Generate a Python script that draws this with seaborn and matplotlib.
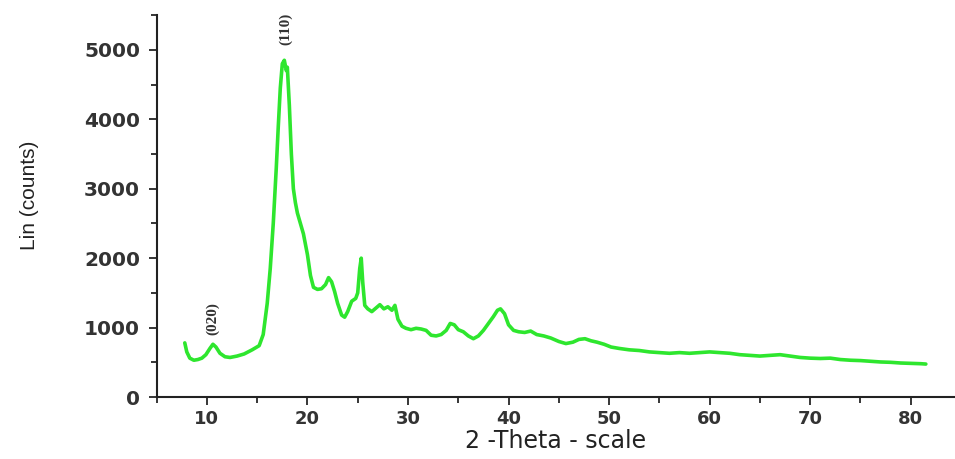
import matplotlib
matplotlib.use("Agg")
import matplotlib.pyplot as plt
import seaborn as sns
import pandas as pd
from matplotlib.ticker import MultipleLocator

two_theta = [7.8, 8.0, 8.3, 8.7, 9.1, 9.5, 9.9, 10.3, 10.6, 10.9, 11.3, 11.8, 12.3, 13.0, 13.7, 14.5, 15.2,
             15.6, 16.0, 16.3, 16.6, 16.9, 17.1, 17.3, 17.5, 17.7, 17.9, 18.0, 18.2, 18.4, 18.6, 18.8,
             19.0, 19.3, 19.6, 20.0, 20.3, 20.6, 21.0, 21.4, 21.8, 22.1, 22.4, 22.7, 23.0, 23.4, 23.7,
             24.0, 24.4, 24.8, 25.0, 25.2, 25.35, 25.5, 25.7, 26.0, 26.4, 26.8, 27.2, 27.6, 28.0, 28.4,
             28.7, 29.0, 29.4, 29.8, 30.3, 30.8, 31.3, 31.8, 32.3, 32.8, 33.3, 33.8, 34.2, 34.6, 35.0,
             35.5, 36.0, 36.5, 37.0, 37.5, 38.0, 38.5, 38.9, 39.2, 39.6, 40.0, 40.5, 41.0, 41.6, 42.2,
             42.8, 43.5, 44.2, 45.0, 45.7, 46.4, 47.0, 47.6, 48.2, 48.8, 49.5, 50.2, 51.0, 52.0, 53.0,
             54.0, 55.0, 56.0, 57.0, 58.0, 59.0, 60.0, 61.0, 62.0, 63.0, 64.0, 65.0, 66.0, 67.0, 68.0,
             69.0, 70.0, 71.0, 72.0, 73.0, 74.0, 75.0, 76.0, 77.0, 78.0, 79.0, 80.0, 81.0, 81.5]

counts = [780, 650, 560, 530, 540, 560, 610, 700, 760, 720, 630, 580, 570, 590, 620, 680, 740,
          900, 1350, 1850, 2500, 3300, 3900, 4450, 4800, 4850, 4700, 4750, 4200, 3500, 3000, 2800,
          2650, 2500, 2350, 2050, 1750, 1580, 1550, 1560, 1620, 1720, 1660, 1520, 1350, 1180, 1150,
          1230, 1380, 1420, 1500, 1850, 2000, 1650, 1320, 1270, 1230, 1280, 1330, 1270, 1300, 1250,
          1320, 1120, 1020, 990, 970, 990, 980, 960, 890, 880, 900, 960, 1060, 1040, 970,
          940, 880, 840, 880, 960, 1060, 1160, 1250, 1270, 1200, 1040, 960, 940, 930, 950,
          900, 880, 850, 800, 770, 790, 830, 840, 810, 790, 760, 720, 700, 680, 670,
          650, 640, 630, 640, 630, 640, 650, 640, 630, 610, 600, 590, 600, 610, 590,
          570, 560, 555, 560, 540, 530, 525, 515, 505, 500, 490, 485, 480, 475]

peak_labels = ["(020)", "(110)"]
peak_pos = [10.6, 17.8]
peak_label_y = [890, 5070]

df = pd.DataFrame({"two_theta": two_theta, "counts": counts})

sns.set_style("white")
plt.rcParams["font.family"] = ["DejaVu Sans"]

fig = plt.figure(figsize=(9.55, 4.59), dpi=100)
ax = fig.add_axes([0.164, 0.135, 0.836, 0.832])

sns.lineplot(data=df, x="two_theta", y="counts", ax=ax, color="#2ee62e", linewidth=2.6)

ax.set_xlim(5, 84.4)
ax.set_ylim(0, 5500)
ax.xaxis.set_major_locator(MultipleLocator(10))
ax.xaxis.set_minor_locator(MultipleLocator(5))
ax.yaxis.set_major_locator(MultipleLocator(1000))
ax.yaxis.set_minor_locator(MultipleLocator(500))
ax.set_xticks(range(10, 90, 10))
ax.tick_params(axis="both", which="major", direction="out", length=6, width=1.3,
               labelsize=13, bottom=True, left=True)
ax.tick_params(axis="y", which="major", labelsize=14.5, pad=6)
ax.tick_params(axis="both", which="minor", direction="out", length=4, width=1.3,
               bottom=True, left=True)
for lab in ax.get_xticklabels() + ax.get_yticklabels():
    lab.set_fontweight("bold")
    lab.set_color("#333333")

for s in ["top", "right"]:
    ax.spines[s].set_visible(False)
for s in ["left", "bottom"]:
    ax.spines[s].set_color("#222222")
    ax.spines[s].set_linewidth(1.5)

ax.set_xlabel("2 -Theta - scale", fontsize=17, color="#222222")
ax.xaxis.set_label_coords(0.5, -0.085)
ax.set_ylabel("Lin (counts)", fontsize=15, color="#222222",
              family=["Liberation Sans Narrow", "Liberation Sans", "DejaVu Sans"])
ax.yaxis.set_label_coords(-0.159, 0.527)
ax.yaxis.label.set_verticalalignment("center")

for lab, xp, yp in zip(peak_labels, peak_pos, peak_label_y):
    ax.text(xp, yp, lab, rotation=90, ha="center", va="bottom", fontsize=11,
            fontweight="bold", family=["Liberation Serif", "DejaVu Serif"], color="#333333")

fig.savefig("out.png", dpi=100)
